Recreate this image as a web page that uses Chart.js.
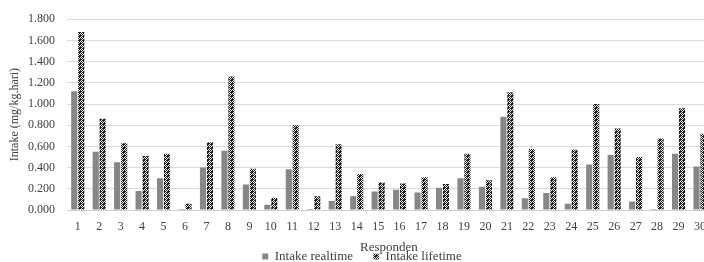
<!DOCTYPE html>
<html>
<head>
<meta charset="utf-8">
<script src="https://cdn.jsdelivr.net/npm/chart.js@4"></script>
<style>
  html, body { margin: 0; padding: 0; background: #fff; overflow: hidden; }
  #wrap { width: 704px; height: 262px; overflow: hidden; }
</style>
</head>
<body>
<div id="wrap"><canvas id="myChart" width="716" height="262"></canvas></div>
<script>
// data
const responden = ['1','2','3','4','5','6','7','8','9','10','11','12','13','14','15',
                   '16','17','18','19','20','21','22','23','24','25','26','27','28','29','30'];
const intakeRealtime = [1.12, 0.55, 0.45, 0.18, 0.30, 0.01, 0.40, 0.56, 0.24, 0.05,
                        0.385, 0.01, 0.085, 0.13, 0.175, 0.19, 0.165, 0.21, 0.30, 0.22,
                        0.88, 0.11, 0.16, 0.06, 0.43, 0.52, 0.08, 0.01, 0.53, 0.41];
const intakeLifetime = [1.68, 0.86, 0.63, 0.51, 0.53, 0.06, 0.64, 1.26, 0.39, 0.115,
                        0.80, 0.13, 0.62, 0.34, 0.26, 0.25, 0.31, 0.245, 0.53, 0.28,
                        1.11, 0.575, 0.31, 0.57, 1.00, 0.77, 0.50, 0.675, 0.96, 0.72];
const yTicks = [0, 0.2, 0.4, 0.6, 0.8, 1.0, 1.2, 1.4, 1.6, 1.8];

const serif = "'Liberation Serif', 'DejaVu Serif', serif";

// motif kotak-kotak untuk seri lifetime
function makePattern() {
    const c = document.createElement('canvas');
    c.width = 4; c.height = 4;
    const g = c.getContext('2d');
    g.fillStyle = '#1e1e1e';
    g.fillRect(0, 0, 4, 4);
    g.fillStyle = '#e8e8e8';
    g.fillRect(1, 0, 1, 1);
    g.fillRect(0, 1, 1, 1);
    g.fillRect(2, 1, 1, 1);
    g.fillRect(1, 2, 1, 1);
    g.fillRect(3, 2, 1, 1);
    g.fillRect(2, 3, 1, 1);
    return g.createPattern(c, 'repeat');
}

const ctx = document.getElementById('myChart').getContext('2d');
const pattern = makePattern();

new Chart(ctx, {
    type: 'bar',
    data: {
        labels: responden,
        datasets: [{
            label: 'Intake realtime',
            data: intakeRealtime,
            backgroundColor: '#878787',
            categoryPercentage: 0.65,
            barPercentage: 0.88
        }, {
            label: 'Intake lifetime',
            data: intakeLifetime,
            backgroundColor: pattern,
            categoryPercentage: 0.65,
            barPercentage: 0.88
        }]
    },
    options: {
        responsive: false,
        animation: false,
        layout: { padding: { top: 10, left: 8, right: 0, bottom: -11 } },
        plugins: {
            legend: {
                position: 'bottom',
                labels: {
                    font: { family: serif, size: 13 },
                    color: '#404040',
                    boxWidth: 6,
                    boxHeight: 6,
                    padding: 20
                }
            },
            tooltip: { enabled: false }
        },
        scales: {
            x: {
                afterFit: axis => { axis.height = 20; },
                grid: { display: false, drawTicks: false },
                border: { color: '#d0d0d0' },
                ticks: { font: { family: serif, size: 12 }, color: '#404040', maxRotation: 0, padding: 10 },
                title: {
                    display: true,
                    text: 'Responden',
                    font: { family: serif, size: 13 },
                    color: '#404040',
                    padding: { top: 0, bottom: -25 }
                }
            },
            y: {
                min: 0,
                max: 1.8,
                afterBuildTicks: axis => { axis.ticks = yTicks.map(v => ({ value: v })); },
                afterFit: axis => { axis.width = 59; },
                grid: { color: '#d9d9d9', drawTicks: false },
                border: { display: false },
                ticks: {
                    font: { family: serif, size: 12 },
                    color: '#404040',
                    padding: 12,
                    callback: v => v.toFixed(3)
                },
                title: {
                    display: true,
                    text: 'Intake (mg/kg.hari)',
                    font: { family: serif, size: 12 },
                    color: '#404040',
                    padding: 0
                }
            }
        }
    }
});
</script>
</body>
</html>
